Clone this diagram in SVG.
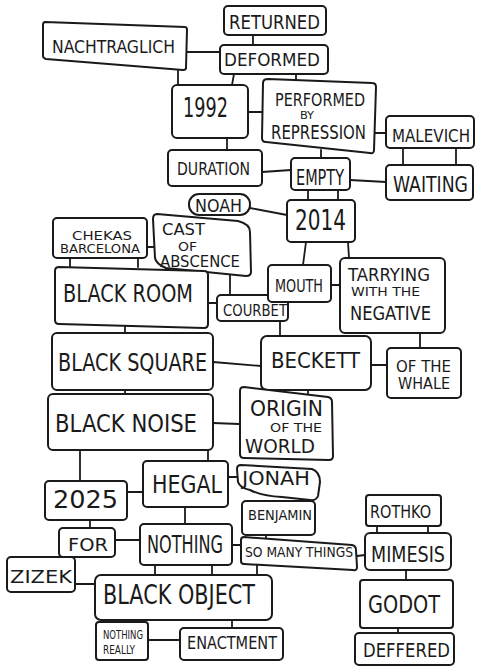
<svg xmlns="http://www.w3.org/2000/svg" width="478" height="668" viewBox="0 0 478 668">
<style>
.b{fill:#fff;stroke:#1a1a1a;stroke-width:2;stroke-linejoin:round}
.c line{stroke:#1a1a1a;stroke-width:1.8;stroke-linecap:round}
text{font-family:"DejaVu Sans Condensed","Liberation Sans Narrow","Liberation Sans",sans-serif;font-stretch:condensed;fill:#1a1a1a}
</style>
<rect width="478" height="668" fill="#fff"/>
<g class="c" id="connectors">
<line x1="253" y1="35" x2="253" y2="45"/>
<line x1="186" y1="52" x2="220" y2="52"/>
<line x1="178" y1="68" x2="178" y2="85"/>
<line x1="234" y1="74" x2="232" y2="85"/>
<line x1="296" y1="74" x2="296" y2="80"/>
<line x1="248" y1="112" x2="263" y2="112"/>
<line x1="375" y1="133" x2="386" y2="133"/>
<line x1="403" y1="148" x2="403" y2="165"/>
<line x1="456" y1="148" x2="456" y2="165"/>
<line x1="321" y1="150" x2="321" y2="158"/>
<line x1="350" y1="180" x2="386" y2="182"/>
<line x1="227" y1="138" x2="227" y2="150"/>
<line x1="262" y1="172" x2="291" y2="170"/>
<line x1="308" y1="190" x2="308" y2="200"/>
<line x1="338" y1="190" x2="338" y2="200"/>
<line x1="250" y1="208" x2="287" y2="215"/>
<line x1="147" y1="247" x2="154" y2="247"/>
<line x1="70" y1="258" x2="70" y2="267"/>
<line x1="138" y1="258" x2="138" y2="267"/>
<line x1="208" y1="303" x2="217" y2="303"/>
<line x1="230" y1="275" x2="230" y2="295"/>
<line x1="306" y1="242" x2="303" y2="265"/>
<line x1="348" y1="242" x2="349" y2="258"/>
<line x1="331" y1="285" x2="340" y2="285"/>
<line x1="280" y1="321" x2="280" y2="336"/>
<line x1="420" y1="333" x2="420" y2="348"/>
<line x1="371" y1="365" x2="387" y2="365"/>
<line x1="213" y1="362" x2="261" y2="366"/>
<line x1="125" y1="325" x2="125" y2="333"/>
<line x1="125" y1="390" x2="125" y2="394"/>
<line x1="308" y1="390" x2="308" y2="395"/>
<line x1="213" y1="423" x2="239" y2="424"/>
<line x1="208" y1="450" x2="208" y2="461"/>
<line x1="80" y1="450" x2="80" y2="481"/>
<line x1="228" y1="477" x2="237" y2="477"/>
<line x1="127" y1="492" x2="143" y2="492"/>
<line x1="185" y1="507" x2="185" y2="524"/>
<line x1="90" y1="520" x2="90" y2="528"/>
<line x1="115" y1="540" x2="140" y2="540"/>
<line x1="232" y1="545" x2="242" y2="545"/>
<line x1="266" y1="535" x2="266" y2="538"/>
<line x1="75" y1="584" x2="95" y2="584"/>
<line x1="155" y1="565" x2="155" y2="575"/>
<line x1="212" y1="565" x2="212" y2="575"/>
<line x1="257" y1="564" x2="257" y2="577"/>
<line x1="130" y1="620" x2="130" y2="623"/>
<line x1="232" y1="620" x2="232" y2="628"/>
<line x1="148" y1="640" x2="180" y2="640"/>
<line x1="377" y1="526" x2="377" y2="533"/>
<line x1="428" y1="526" x2="428" y2="533"/>
<line x1="357" y1="556" x2="365" y2="555"/>
<line x1="406" y1="570" x2="406" y2="580"/>
<line x1="398" y1="628" x2="398" y2="633"/>
</g>
<g id="returned"><rect class="b" x="224" y="6" width="102" height="29" rx="4"/><text x="229" y="29" font-size="19" textLength="91" lengthAdjust="spacingAndGlyphs">RETURNED</text></g>
<g id="deformed"><rect class="b" x="220" y="45" width="108" height="29" rx="4"/><text x="224" y="66" font-size="18" textLength="96" lengthAdjust="spacingAndGlyphs">DEFORMED</text></g>
<g id="nachtraglich"><path class="b" d="M45 22 L185 27 Q187 27 187 30 L186 68 Q186 70 183 70 L46 59 Q43 58 43 56 L43 25 Q43 22 45 22 Z"/><text x="52" y="53" font-size="17" textLength="123" lengthAdjust="spacingAndGlyphs">NACHTRAGLICH</text></g>
<g id="n1992"><rect class="b" x="172" y="85" width="76" height="53" rx="5"/><text x="183" y="117" font-size="26" textLength="45" lengthAdjust="spacingAndGlyphs">1992</text></g>
<g id="performed"><path class="b" d="M268 79 L372 83 Q376 83 376 87 L374 150 Q374 154 370 153 L266 142 Q262 142 262 138 L263 83 Q263 79 268 79 Z"/><text x="275" y="106" font-size="18" textLength="90" lengthAdjust="spacingAndGlyphs">PERFORMED</text><text x="300" y="119" font-size="11" textLength="14" lengthAdjust="spacingAndGlyphs">BY</text><text x="271" y="139" font-size="19" textLength="95" lengthAdjust="spacingAndGlyphs">REPRESSION</text></g>
<g id="malevich"><rect class="b" x="386" y="116" width="88" height="32" rx="4"/><text x="392" y="142" font-size="18" textLength="78" lengthAdjust="spacingAndGlyphs">MALEVICH</text></g>
<g id="waiting"><rect class="b" x="386" y="165" width="87" height="35" rx="4"/><text x="393" y="192" font-size="21" textLength="75" lengthAdjust="spacingAndGlyphs">WAITING</text></g>
<g id="empty"><rect class="b" x="291" y="158" width="59" height="32" rx="4"/><text x="296" y="185" font-size="21" textLength="48" lengthAdjust="spacingAndGlyphs">EMPTY</text></g>
<g id="duration"><rect class="b" x="168" y="150" width="94" height="36" rx="4"/><text x="177" y="175" font-size="17" textLength="73" lengthAdjust="spacingAndGlyphs">DURATION</text></g>
<g id="n2014"><rect class="b" x="287" y="200" width="68" height="42" rx="4"/><text x="295" y="230" font-size="28" textLength="51" lengthAdjust="spacingAndGlyphs">2014</text></g>
<g id="noah"><rect class="b" x="189" y="194" width="61" height="21" rx="10"/><text x="195" y="212" font-size="18" textLength="47" lengthAdjust="spacingAndGlyphs">NOAH</text></g>
<g id="cast"><path class="b" d="M157 214 L238 221 Q250 224 250 232 L251 272 Q251 276 246 276 L166 268 Q156 264 155 258 L153 219 Q153 214 157 214 Z"/><text x="162" y="235" font-size="16" textLength="43" lengthAdjust="spacingAndGlyphs">CAST</text><text x="178" y="251" font-size="12" textLength="19" lengthAdjust="spacingAndGlyphs">OF</text><text x="160" y="267" font-size="15" textLength="80" lengthAdjust="spacingAndGlyphs">ABSCENCE</text></g>
<g id="chekas"><rect class="b" x="53" y="218" width="94" height="40" rx="4"/><text x="72" y="240" font-size="13" textLength="60" lengthAdjust="spacingAndGlyphs">CHEKAS</text><text x="60" y="253" font-size="12" textLength="80" lengthAdjust="spacingAndGlyphs">BARCELONA</text></g>
<g id="blackroom"><path class="b" d="M59 267 L204 271 Q208 271 208 275 L208 324 Q208 328 204 328 L59 324 Q55 324 55 320 L55 271 Q55 267 59 267 Z"/><text x="63" y="302" font-size="24" textLength="130" lengthAdjust="spacingAndGlyphs">BLACK ROOM</text></g>
<g id="courbet"><rect class="b" x="217" y="295" width="71" height="26" rx="4"/><text x="223" y="316" font-size="15" textLength="64" lengthAdjust="spacingAndGlyphs">COURBET</text></g>
<g id="mouth"><rect class="b" x="268" y="265" width="63" height="37" rx="4"/><text x="275" y="292" font-size="17" textLength="48" lengthAdjust="spacingAndGlyphs">MOUTH</text></g>
<g id="tarrying"><rect class="b" x="340" y="258" width="105" height="75" rx="5"/><text x="348" y="281" font-size="17" textLength="82" lengthAdjust="spacingAndGlyphs">TARRYING</text><text x="351" y="296" font-size="12" textLength="69" lengthAdjust="spacingAndGlyphs">WITH THE</text><text x="350" y="320" font-size="19" textLength="81" lengthAdjust="spacingAndGlyphs">NEGATIVE</text></g>
<g id="beckett"><rect class="b" x="261" y="336" width="110" height="54" rx="6"/><text x="271" y="368" font-size="22" textLength="89" lengthAdjust="spacingAndGlyphs">BECKETT</text></g>
<g id="whale"><rect class="b" x="387" y="348" width="74" height="50" rx="4"/><text x="396" y="372" font-size="15" textLength="55" lengthAdjust="spacingAndGlyphs">OF THE</text><text x="398" y="389" font-size="15" textLength="52" lengthAdjust="spacingAndGlyphs">WHALE</text></g>
<g id="blacksquare"><rect class="b" x="52" y="333" width="161" height="57" rx="5"/><text x="58" y="371" font-size="24" textLength="149" lengthAdjust="spacingAndGlyphs">BLACK SQUARE</text></g>
<g id="blacknoise"><rect class="b" x="48" y="394" width="165" height="56" rx="5"/><text x="55" y="432" font-size="24" textLength="142" lengthAdjust="spacingAndGlyphs">BLACK NOISE</text></g>
<g id="origin"><path class="b" d="M244 387 L328 397 Q332 398 332 402 L333 456 Q333 460 329 460 L244 458 Q240 458 240 454 L240 391 Q240 387 244 387 Z"/><text x="250" y="416" font-size="21" textLength="73" lengthAdjust="spacingAndGlyphs">ORIGIN</text><text x="270" y="432" font-size="12" textLength="52" lengthAdjust="spacingAndGlyphs">OF THE</text><text x="245" y="453" font-size="20" textLength="70" lengthAdjust="spacingAndGlyphs">WORLD</text></g>
<g id="hegal"><rect class="b" x="143" y="461" width="85" height="46" rx="4"/><text x="152" y="493" font-size="24" textLength="70" lengthAdjust="spacingAndGlyphs">HEGAL</text></g>
<g id="jonah"><path class="b" d="M241 465 L312 469 Q320 472 320 482 L318 496 Q316 501 310 500 L282 497 Q262 496 250 490 Q240 488 238 482 L237 469 Q237 465 241 465 Z"/><text x="242" y="485" font-size="20" textLength="68" lengthAdjust="spacingAndGlyphs">JONAH</text></g>
<g id="benjamin"><rect class="b" x="242" y="501" width="73" height="34" rx="4"/><text x="248" y="520" font-size="14" textLength="64" lengthAdjust="spacingAndGlyphs">BENJAMIN</text></g>
<g id="n2025"><rect class="b" x="45" y="481" width="82" height="39" rx="4"/><text x="53" y="508" font-size="24" textLength="65" lengthAdjust="spacingAndGlyphs">2025</text></g>
<g id="nothing"><rect class="b" x="140" y="524" width="92" height="41" rx="4"/><text x="147" y="553" font-size="24" textLength="76" lengthAdjust="spacingAndGlyphs">NOTHING</text></g>
<g id="for"><rect class="b" x="59" y="528" width="56" height="29" rx="4"/><text x="68" y="551" font-size="18" textLength="40" lengthAdjust="spacingAndGlyphs">FOR</text></g>
<g id="zizek"><rect class="b" x="7" y="557" width="68" height="35" rx="4"/><text x="10" y="583" font-size="18" textLength="62" lengthAdjust="spacingAndGlyphs">ZIZEK</text></g>
<g id="somanythings"><path class="b" d="M244 537 L352 545 Q356 546 356 550 L357 567 Q357 571 353 570 L244 564 Q241 564 241 561 L241 540 Q241 537 244 537 Z"/><text x="245" y="557" font-size="14" textLength="108" lengthAdjust="spacingAndGlyphs">SO MANY THINGS</text></g>
<g id="blackobject"><rect class="b" x="95" y="575" width="177" height="45" rx="6"/><text x="103" y="604" font-size="26" textLength="152" lengthAdjust="spacingAndGlyphs">BLACK OBJECT</text></g>
<g id="nothingreally"><rect class="b" x="96" y="622" width="52" height="38" rx="3"/><text x="103" y="639" font-size="13" textLength="40" lengthAdjust="spacingAndGlyphs">NOTHING</text><text x="103" y="654" font-size="12" textLength="32" lengthAdjust="spacingAndGlyphs">REALLY</text></g>
<g id="enactment"><rect class="b" x="180" y="628" width="103" height="32" rx="4"/><text x="187" y="649" font-size="17" textLength="90" lengthAdjust="spacingAndGlyphs">ENACTMENT</text></g>
<g id="rothko"><rect class="b" x="366" y="495" width="75" height="31" rx="3"/><text x="370" y="518" font-size="17" textLength="61" lengthAdjust="spacingAndGlyphs">ROTHKO</text></g>
<g id="mimesis"><rect class="b" x="365" y="533" width="86" height="37" rx="5"/><text x="371" y="562" font-size="22" textLength="74" lengthAdjust="spacingAndGlyphs">MIMESIS</text></g>
<g id="godot"><rect class="b" x="360" y="580" width="93" height="48" rx="3"/><text x="368" y="613" font-size="24" textLength="72" lengthAdjust="spacingAndGlyphs">GODOT</text></g>
<g id="deffered"><rect class="b" x="355" y="633" width="99" height="32" rx="4"/><text x="363" y="657" font-size="20" textLength="87" lengthAdjust="spacingAndGlyphs">DEFFERED</text></g>
</svg>
